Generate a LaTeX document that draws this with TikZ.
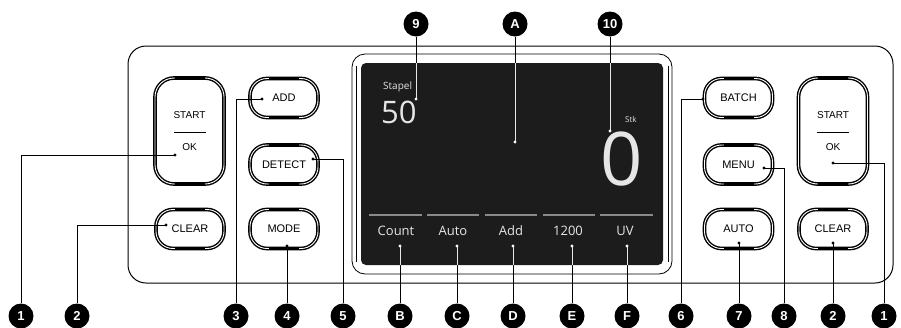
\documentclass[tikz,border=0pt]{standalone}
\usepackage{fontspec}
\setmainfont{Liberation Sans}
\newfontfamily\screenfont{Open Sans}
\definecolor{lcd}{HTML}{1C1C1C}
\definecolor{lcdtext}{HTML}{E6E6E6}
\definecolor{lcdbar}{HTML}{8A8A8A}
\begin{document}
\begin{tikzpicture}[x=1pt,y=-1pt,
  pill/.style={draw=black,line width=1.4pt,double=white,double distance=0.9pt,outer sep=0pt,rounded corners=17pt,minimum width=68pt,minimum height=39pt,inner sep=0pt,font=\fontsize{11}{13}\selectfont},
  tallpill/.style={pill,minimum width=69pt,minimum height=106pt,rounded corners=19pt},
  badge/.style={circle,fill=black,inner sep=0pt,minimum size=25pt,text=white,font=\bfseries\fontsize{13}{13}\selectfont},
  leader/.style={line width=0.8pt},
  lcdlabel/.style={text=lcdtext,font=\screenfont\fontsize{13}{15}\selectfont,inner sep=0pt}]
  \useasboundingbox (0,0) rectangle (901,327);
  % housing and display bezel
  \draw[line width=1pt,rounded corners=18pt] (128,46) rectangle (893,283);
  \draw[line width=0.8pt,rounded corners=13pt] (352,54) rectangle (672,274);
  \draw[line width=0.6pt] (356,66) -- (356,262) (668,66) -- (668,262);
  \fill[lcd,rounded corners=5pt] (361,63) rectangle (663,265);
  \node[text=lcdtext,font=\screenfont\fontsize{10}{12}\selectfont,anchor=base west,inner sep=0pt] (stapel) at (383,89.5) {Stapel};
  \node[text=lcdtext,font=\screenfont\fontsize{31}{33}\selectfont,anchor=base west,inner sep=0pt] (stapelval) at (381,123) {50};
  \node[text=lcdtext,font=\screenfont\fontsize{8}{10}\selectfont,anchor=base west,inner sep=0pt] (stk) at (625,122) {Stk};
  \node[text=lcdtext,font=\screenfont\fontsize{74}{76}\selectfont,anchor=base,inner sep=0pt] (count) at (622,185) {0};
  \foreach \a/\b in {369/422,427/479,485/537,543/595,600/653} \draw[lcdbar,line width=2.2pt] (\a,215) -- (\b,215);
  \node[lcdlabel] (tCount) at (396,231) {Count};
  \node[lcdlabel] (tAuto) at (453,231) {Auto};
  \node[lcdlabel] (tAdd) at (511,231) {Add};
  \node[lcdlabel] (tLimit) at (568,231) {1200};
  \node[lcdlabel] (tUV) at (625,231) {UV};
  % keys
  \node[tallpill] (okL) at (189.5,131) {};
  \node (startL) at (189.5,115) {START};
  \draw[line width=0.7pt] (174,132) -- (206,132);
  \node (okLtxt) at (189.5,147) {OK};
  \node[pill] (clrL) at (190,229) {CLEAR};
  \node[pill] (add) at (284,98) {ADD};
  \node[pill] (detect) at (284,164.5) {DETECT};
  \node[pill] (mode) at (284,229) {MODE};
  \node[pill] (batch) at (738.5,98) {BATCH};
  \node[pill] (menu) at (738.5,164.5) {MENU};
  \node[pill] (auto) at (738.5,229) {AUTO};
  \node[tallpill] (okR) at (833,131) {};
  \node (startR) at (833,115) {START};
  \draw[line width=0.7pt] (817,132) -- (849,132);
  \node (okRtxt) at (833,147) {OK};
  \node[pill] (clrR) at (833,229) {CLEAR};
  \foreach \b in {okL,clrL,add,detect,mode,batch,menu,auto,okR,clrR} {
    \draw[line width=3.7pt] ([xshift=-15pt]\b.north) -- ([xshift=15pt]\b.north);
    \draw[line width=3.7pt] ([xshift=-15pt]\b.south) -- ([xshift=15pt]\b.south);
  }
  % callout points
  \coordinate (pOkL) at (175,155);
  \coordinate (pClrL) at (166,225);
  \coordinate (pAdd) at (262,99);
  \coordinate (pDet) at (313,159);
  \coordinate (pMode) at (287,246);
  \coordinate (pBatch) at (703,99);
  \coordinate (pMenu) at (764,168);
  \coordinate (pAuto) at (739,243);
  \coordinate (pOkR) at (833,163);
  \coordinate (pClrR) at (833,243);
  \coordinate (p9) at (416,99);
  \coordinate (pA) at (515,142);
  \coordinate (p10) at (610,131);
  \coordinate (pB) at (400,246);
  \coordinate (pC) at (457,246);
  \coordinate (pD) at (513,246);
  \coordinate (pE) at (572,246);
  \coordinate (pF) at (627,246);
  % badges
  \node[badge] (b1L) at (21,316) {1};
  \node[badge] (b2L) at (77,316) {2};
  \node[badge] (b3) at (236,316) {3};
  \node[badge] (b4) at (287,316) {4};
  \node[badge] (b5) at (343,316) {5};
  \node[badge] (bB) at (400,316) {B};
  \node[badge] (bC) at (457,316) {C};
  \node[badge] (bD) at (513,316) {D};
  \node[badge] (bE) at (572,316) {E};
  \node[badge] (bF) at (627,316) {F};
  \node[badge] (b6) at (681,316) {6};
  \node[badge] (b7) at (739,316) {7};
  \node[badge] (b8) at (784,316) {8};
  \node[badge] (b2R) at (833,316) {2};
  \node[badge] (b1R) at (884,316) {1};
  \node[badge] (b9) at (416,24) {9};
  \node[badge] (bA) at (515,24) {A};
  \node[badge] (b10) at (610,24) {10};
  % leaders
  \draw[leader] (pOkL) -| (b1L);
  \draw[leader] (pClrL) -| (b2L);
  \draw[leader] (pAdd) -| (b3);
  \draw[leader] (pMode) -- (b4);
  \draw[leader] (pDet) -| (b5);
  \draw[leader] (pBatch) -| (b6);
  \draw[leader] (pAuto) -- (b7);
  \draw[leader] (pMenu) -| (b8);
  \draw[leader] (pClrR) -- (b2R);
  \draw[leader] (pOkR) -| (b1R);
  \foreach \p/\b in {p9/b9,pA/bA,p10/b10,pB/bB,pC/bC,pD/bD,pE/bE,pF/bF} \draw[leader] (\p) -- (\b);
  \foreach \p in {pOkL,pClrL,pAdd,pDet,pMode,pBatch,pMenu,pAuto,pOkR,pClrR} \fill (\p) circle (1.6pt);
  \begin{scope}
    \clip[rounded corners=5pt] (361,63) rectangle (663,265);
    \foreach \p/\b in {p9/b9,pA/bA,p10/b10,pB/bB,pC/bC,pD/bD,pE/bE,pF/bF} {
      \draw[leader,lcdtext] (\p) -- (\b);
      \fill[white] (\p) circle (1.6pt);
    }
  \end{scope}
\end{tikzpicture}
\end{document}
